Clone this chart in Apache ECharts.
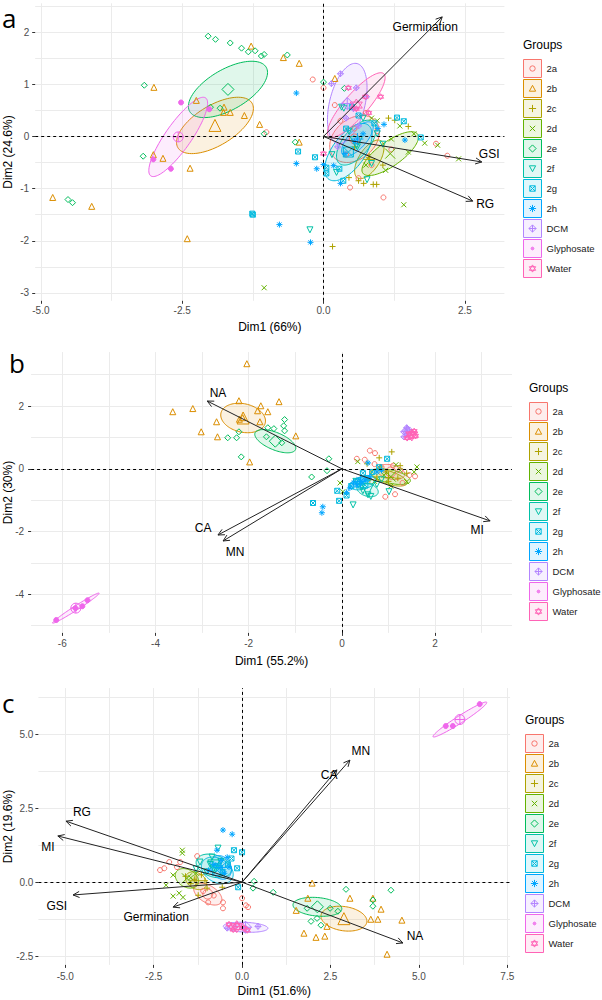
<!DOCTYPE html>
<html><head><meta charset="utf-8">
<script src="https://cdn.jsdelivr.net/npm/echarts@6/dist/echarts.min.js"></script>
<style>html,body{margin:0;padding:0;background:#fff}#c{width:602px;height:1000px}</style>
</head><body><div id="c"></div>
<script>
// ---------------- DATA ----------------
const groups = ['2a','2b','2c','2d','2e','2f','2g','2h','DCM','Glyphosate','Water'];
const colors = ['#F8766D','#DB8E00','#AEA200','#64B200','#00BD5C','#00C1A7','#00BADE','#00A6FF','#B385FF','#EF67EB','#FF63B6'];

// Panel a : individuals per group [Dim1, Dim2]
const pointsA = [
 [[-1.01,0.08],[1.06,-1.17],[1.99,-0.14],[2.19,-0.37],[-0.19,1.09],[0.0,0.93],[0.47,-0.98],[0.62,-0.80],[0.85,-0.55],[0.30,0.30],[0.75,0.45],[1.20,-0.25],[0.40,-0.35],[0.95,0.10],[0.20,0.60],[0.55,0.15]],
 [[-1.28,1.73],[-0.71,1.51],[-0.43,1.40],[-3.0,0.94],[-2.25,0.69],[-1.76,0.56],[-1.65,0.46],[-1.77,0.46],[-1.40,0.40],[-1.13,0.23],[-3.01,-0.35],[-2.84,-0.42],[-2.36,-0.61],[-4.79,-1.17],[-4.10,-1.34],[-2.41,-1.96],[-0.43,-0.11],[0.20,1.11]],
 [[0.16,-2.11],[0.71,-0.90],[0.88,-0.92],[0.94,-0.92],[1.15,0.35],[1.26,0.31],[1.50,0.19],[0.45,-0.79],[0.62,-0.85],[0.80,-0.40],[1.05,-0.55],[0.55,-0.20]],
 [[-1.05,-2.90],[1.42,-1.31],[2.39,-0.43],[2.02,-0.17],[1.79,-0.13],[0.95,0.30],[1.35,0.20],[1.60,0.05],[0.75,-0.55],[1.10,-0.65],[0.85,0.35],[1.50,-0.30],[1.20,-0.05]],
 [[-2.04,1.92],[-1.91,1.86],[-1.65,1.79],[-1.45,1.69],[-1.33,1.62],[-1.21,1.64],[-1.10,1.54],[-1.05,1.57],[-0.64,1.56],[-3.17,0.98],[-2.0,0.56],[-1.83,0.54],[-1.05,0.05],[-3.19,-0.38],[-4.52,-1.21],[-4.44,-1.27],[-0.5,-0.11],[0.0,1.04],[0.37,0.92]],
 [[-0.24,-1.79],[0.36,0.54],[0.85,-0.52],[0.23,-0.69],[0.32,0.56],[0.77,-0.83],[0.60,-0.20],[0.45,0.10],[0.95,0.05],[0.15,-0.35],[0.70,0.35],[1.05,-0.15]],
 [[-0.45,-0.29],[-1.26,-1.48],[-1.25,-1.50],[-0.15,-0.40],[1.72,-0.02],[0.50,0.56],[1.42,0.29],[1.30,0.36],[0.05,-0.60],[0.28,-0.62],[0.35,-0.85],[0.05,-0.71],[0.62,0.40],[0.40,0.15],[0.90,0.25]],
 [[-0.48,0.83],[-0.48,-0.52],[-0.78,-1.69],[-0.23,-2.03],[-0.12,-0.62],[0.0,-0.54],[0.18,-0.56],[0.30,-0.90],[0.96,0.15],[1.07,0.23],[1.44,-0.07],[0.38,-0.33],[0.55,-0.10],[0.70,0.05]],
 [[0.14,1.01],[0.58,0.93],[0.76,0.76],[0.53,0.53],[0.25,-0.20],[0.40,0.35],[0.62,0.20],[0.30,1.20]],
 [[-2.52,0.65],[-2.02,0.52],[-3.01,-0.44],[-2.70,-0.62]],
 [[0.44,0.93],[0.74,0.76],[1.01,0.76],[0.58,0.53],[0.0,-0.33],[0.80,0.45]]
];
// group ellipses: [centre Dim1, centre Dim2, sd Dim1, sd Dim2, correlation]
const ellipsesA = [
 [0.55,-0.05,0.44,0.45,0.3],[-1.92,0.21,0.68,0.54,0.6],[0.81,-0.44,0.26,0.37,0.6],[1.18,-0.33,0.50,0.42,0.75],
 [-1.69,0.90,0.70,0.54,0.6],[0.58,-0.12,0.35,0.43,0.6],[0.44,-0.30,0.42,0.55,0.6],[0.60,-0.05,0.28,0.33,0.7],
 [0.42,0.63,0.35,0.77,0.4],[-2.57,-0.01,0.52,0.76,0.85],[0.58,0.60,0.51,0.62,0.85]
];
const varNamesA = ['Germination','GSI','RG'];
const varTipsA = [[2.10,2.29],[2.80,-0.49],[2.64,-1.24]];
const varLabelsA = [[1.80,2.10],[2.93,-0.34],[2.86,-1.30]];

// Panel b
const pointsB = [
 [[0.60,0.58],[0.71,0.50],[0.32,0.32],[0.49,0.29],[0.93,-0.89],[1.14,-0.81],[1.57,-0.24],[1.45,-0.20],[0.85,0.05],[1.10,0.10],[1.25,-0.05],[0.70,0.15],[1.30,-0.45]],
 [[-2.04,3.35],[-2.21,2.17],[-1.35,2.14],[-3.63,1.82],[-3.20,1.92],[-1.74,2.01],[-1.81,1.85],[-1.59,1.82],[-2.69,1.50],[-2.13,1.63],[-1.76,1.50],[-3.02,1.18],[-2.67,1.02],[-0.99,1.05],[-1.98,0.22],[-2.20,1.58]],
 [[1.07,0.54],[0.80,0.35],[0.54,0.16],[0.82,0.06],[1.39,-0.14],[0.75,-0.26],[1.00,-0.40],[1.20,-0.30],[0.95,-0.10],[0.60,-0.35],[1.25,0.10]],
 [[-0.04,-0.45],[1.61,0.06],[1.55,-0.10],[0.34,0.23],[1.16,0.13],[0.02,-0.73],[1.39,-0.41],[0.90,-0.20],[1.25,-0.05],[0.70,-0.40],[1.05,-0.55]],
 [[-2.45,0.99],[-2.26,0.99],[-2.21,1.18],[-2.16,0.38],[-1.62,1.02],[-1.59,1.31],[-1.46,1.28],[-1.23,1.57],[-1.25,1.37],[-1.23,1.21],[-1.29,0.83],[-0.28,0.32],[-0.65,-0.26],[-0.32,-0.06]],
 [[0.24,-1.15],[1.01,-0.73],[0.56,-0.83],[0.43,-0.57],[0.62,-0.88],[0.30,-0.40],[0.75,-0.50],[0.45,-0.70],[0.85,-0.35]],
 [[-0.62,-1.09],[-0.10,-0.70],[-0.06,-1.02],[0.97,0.32],[0.45,-0.14],[0.20,-0.55],[0.35,-0.40],[0.65,-0.10],[0.80,0.05],[0.10,-0.85],[0.55,-0.30]],
 [[-0.41,-1.21],[-0.43,-1.40],[0.17,-0.61],[0.32,-0.51],[0.43,-0.41],[0.60,-0.26],[0.75,-0.10],[0.56,0.19],[0.25,-0.45],[0.50,-0.35],[0.85,-0.05],[0.10,-0.75]],
 [[1.39,1.31],[1.36,1.20],[1.42,1.12],[1.33,1.02],[1.45,1.24]],
 [[-6.13,-4.82],[-5.72,-4.44],[-5.57,-4.38],[-5.46,-4.19]],
 [[1.45,1.10],[1.52,1.14],[1.58,1.05],[1.40,0.98],[1.55,1.20],[1.48,1.02]]
];
const ellipsesB = [
 [1.05,-0.10,0.30,0.24,-0.3],[-2.12,1.62,0.48,0.47,-0.2],[1.00,-0.28,0.40,0.27,-0.6],[1.05,-0.25,0.42,0.25,-0.5],
 [-1.43,0.88,0.44,0.37,-0.6],[0.55,-0.67,0.23,0.22,-0.3],[0.45,-0.45,0.28,0.22,0.4],[0.40,-0.40,0.22,0.18,0.6],
 [1.39,1.18,0.06,0.12,0.3],[-5.71,-4.44,0.50,0.48,0.985],[1.50,1.08,0.08,0.08,0.3]
];
const varNamesB = ['NA','CA','MN','MI'];
const varTipsB = [[-2.89,2.16],[-2.66,-2.11],[-2.55,-2.30],[3.18,-1.66]];
const varLabelsB = [[-2.66,2.42],[-2.98,-1.89],[-2.29,-2.65],[2.90,-1.95]];

// Panel c
const pointsC = [
 [[-2.32,0.41],[-2.20,0.47],[-2.06,0.68],[-1.84,0.51],[-0.96,-0.68],[-0.54,-0.68],[-0.54,-0.88],[0.11,-0.78],[0.17,-0.84],[0.0,-0.54],[-1.27,0.88],[-1.75,0.68],[-1.10,-0.30],[-0.80,-0.45]],
 [[1.98,-0.03],[1.86,-0.54],[3.05,-0.54],[3.70,-0.54],[3.93,-0.91],[3.64,-1.25],[3.84,-1.25],[4.52,-1.28],[1.53,-0.95],[2.40,-1.49],[1.75,-1.72],[2.09,-1.86],[2.34,-1.82],[4.10,-2.43]],
 [[-0.99,-0.20],[-1.24,-0.44],[-0.56,-0.17],[-1.35,0.10],[-1.15,0.25],[-1.45,-0.05],[-1.05,0.05],[-1.60,0.20]],
 [[-1.69,1.08],[-1.95,0.24],[-2.15,-0.10],[-1.95,-0.47],[-1.78,-0.37],[-1.67,-0.51],[-1.69,0.98],[-1.45,0.15],[-1.30,0.30]],
 [[2.94,-0.24],[4.21,-0.27],[3.70,-0.81],[1.84,-0.88],[2.49,-0.88],[2.71,-0.98],[1.95,-1.32],[2.12,-1.22],[2.23,-1.45],[0.34,0.03],[0.31,-0.20],[0.88,-0.34],[3.70,-0.60]],
 [[-0.68,1.15],[-1.19,0.68],[-0.90,0.60],[-0.75,0.45],[-1.00,0.35],[-0.60,0.70],[-1.30,0.45],[-0.85,0.85]],
 [[-0.23,1.08],[0.0,1.01],[-0.14,0.47],[-0.11,-0.17],[-0.40,0.60],[-0.55,0.35],[-0.30,0.80],[-0.70,0.55]],
 [[-0.54,1.76],[-0.28,1.62],[-0.71,1.08],[-0.42,0.84],[-0.37,0.51],[-0.59,0.74],[-0.80,0.60],[-0.95,0.40],[-0.50,0.30]],
 [[-0.42,-1.55],[0.45,-1.49],[0.10,-1.55],[-0.20,-1.50]],
 [[5.76,5.27],[5.96,5.27],[6.72,6.01]],
 [[-0.37,-1.42],[-0.14,-1.45],[0.05,-1.55],[-0.25,-1.60],[0.15,-1.62]]
];
const ellipsesC = [
 [-0.97,-0.40,0.40,0.37,-0.5],[2.88,-1.23,0.65,0.42,-0.2],[-1.30,0.05,0.30,0.30,-0.3],[-1.56,0.13,0.33,0.33,-0.3],
 [2.13,-0.83,0.69,0.32,-0.2],[-0.80,0.55,0.50,0.40,-0.3],[-0.70,0.40,0.45,0.45,-0.3],[-0.60,0.50,0.30,0.40,-0.2],
 [0.10,-1.52,0.63,0.17,-0.2],[6.16,5.49,0.76,0.59,0.97],[-0.15,-1.50,0.25,0.10,0.0]
];
const varNamesC = ['RG','MI','GSI','Germination','MN','CA','NA'];
const varTipsC = [[-4.98,2.06],[-5.21,1.56],[-4.78,-0.43],[-1.95,-0.84],[3.05,4.12],[2.68,3.79],[4.55,-2.05]];
const varLabelsC = [[-4.53,2.36],[-5.49,1.19],[-5.24,-0.80],[-2.43,-1.18],[3.36,4.43],[2.46,3.62],[4.89,-1.81]];

// axis ticks / grid lines
const xTicksA = [-5,-2.5,0,2.5], yTicksA = [-3,-2,-1,0,1,2];
const xGridA = [-5,-3.75,-2.5,-1.25,0,1.25,2.5], yGridA = [-3,-2.5,-2,-1.5,-1,-0.5,0,0.5,1,1.5,2,2.5];
const xTicksB = [-6,-4,-2,0,2], yTicksB = [-4,-2,0,2];
const xGridB = [-6,-5,-4,-3,-2,-1,0,1,2,3], yGridB = [-5,-4,-3,-2,-1,0,1,2,3];
const xTicksC = [-5,-2.5,0,2.5,5,7.5], yTicksC = [-2.5,0,2.5,5];
const xGridC = [-5,-3.75,-2.5,-1.25,0,1.25,2.5,3.75,5,6.25,7.5], yGridC = [-2.5,-1.25,0,1.25,2.5,3.75,5,6.25];

// ---------------- STYLE / LAYOUT ----------------
const FF = '"Liberation Sans", Arial, sans-serif';
const T = 'rgba(0,0,0,0)';
function rgba(hex,a){const n=parseInt(hex.slice(1),16);return 'rgba('+(n>>16)+','+((n>>8)&255)+','+(n&255)+','+a+')';}
const symbols = [
 'circle','triangle',
 'path://M5,0V10M0,5H10',
 'path://M0,0L10,10M10,0L0,10',
 'diamond',
 'path://M0,0L10,0L5,9Z',
 'path://M0,0H10V10H0ZM0,0L10,10M10,0L0,10',
 'path://M5,0V10M0,5H10M1.5,1.5L8.5,8.5M8.5,1.5L1.5,8.5',
 'path://M5,0L10,5L5,10L0,5ZM5,0V10M0,5H10',
 'circle',
 'path://M5,0L9.33,7.5L0.67,7.5ZM5,10L0.67,2.5L9.33,2.5Z'
];
const symSize = [5,6,6,5,6,6,5,6,6,5,6];
const meanSymbols = symbols.slice(); meanSymbols[9] = 'path://M0,5A5,5 0 1,1 10,5A5,5 0 1,1 0,5ZM5,0V10M0,5H10';
const legendInner = [
 'M7,10A3,3 0 1,1 13,10A3,3 0 1,1 7,10Z',
 'M10,6.5L13.5,13L6.5,13Z',
 'M10,6V14M6,10H14',
 'M7,7L13,13M13,7L7,13',
 'M10,6L14,10L10,14L6,10Z',
 'M6.5,7L13.5,7L10,13.5Z',
 'M7,7H13V13H7ZM7,7L13,13M13,7L7,13',
 'M10,6V14M6,10H14M7.2,7.2L12.8,12.8M12.8,7.2L7.2,12.8',
 'M10,6L14,10L10,14L6,10ZM10,6V14M6,10H14',
 'M8.5,10A1.5,1.5 0 1,1 11.5,10A1.5,1.5 0 1,1 8.5,10ZM9.3,10A0.7,0.7 0 1,1 10.7,10A0.7,0.7 0 1,1 9.3,10Z',
 'M10,6L13.5,12H6.5ZM10,14L6.5,8H13.5Z'
];

const panels = [
 {pts:pointsA, ell:ellipsesA, vn:varNamesA, vt:varTipsA, vl:varLabelsA, xr:[-5.1,3.2], yr:[-3.15,2.55],
  xg:xGridA, yg:yGridA, xt:xTicksA, yt:yTicksA, xDec:1, yDec:0, xName:'Dim1 (66%)', yName:'Dim2 (24.6%)',
  rect:{left:35.2, top:3.3, width:469.2, height:297.5}, mx:5, my:6, ngx:20, ngy:21, legLeft:523, legTop:59, grpTop:39},
 {pts:pointsB, ell:ellipsesB, vn:varNamesB, vt:varTipsB, vl:varLabelsB, xr:[-6.67,3.65], yr:[-5.23,3.72],
  xg:xGridB, yg:yGridB, xt:xTicksB, yt:yTicksB, xDec:0, yDec:0, xName:'Dim1 (55.2%)', yName:'Dim2 (30%)',
  rect:{left:31.1, top:352.1, width:480.9, height:280.8}, mx:6, my:7, ngx:22, ngy:17, legLeft:529, legTop:402, grpTop:382},
 {pts:pointsC, ell:ellipsesC, vn:varNamesC, vt:varTipsC, vl:varLabelsC, xr:[-5.76,7.58], yr:[-2.79,6.55],
  xg:xGridC, yg:yGridC, xt:xTicksC, yt:yTicksC, xDec:1, yDec:1, xName:'Dim1 (51.6%)', yName:'Dim2 (19.6%)',
  rect:{left:38.4, top:688.1, width:471.7, height:276.8}, mx:7, my:5, ngx:20, ngy:24, legLeft:525, legTop:734, grpTop:714}
];

const grid=[], xAxis=[], yAxis=[], series=[], legend=[];
const title = [
 {text:'a', left:2, top:5, padding:0, textStyle:{fontSize:26, lineHeight:26, fontWeight:'normal', color:'#000', fontFamily:'"Open Sans", sans-serif'}},
 {text:'b', left:9, top:350, padding:0, textStyle:{fontSize:26, fontWeight:'normal', color:'#000', fontFamily:'"Open Sans", sans-serif'}},
 {text:'c', left:2, top:690, padding:0, textStyle:{fontSize:26, fontWeight:'normal', color:'#000', fontFamily:'"Open Sans", sans-serif'}}
];

function ellipseRender(colorsArr){
 return function(params, api){
  const cx=api.value(0), cy=api.value(1), sx=api.value(2), sy=api.value(3), r=api.value(4), g=api.value(5);
  const q=Math.sqrt(Math.max(0,1-r*r)); const pts=[];
  for(let k=0;k<96;k++){const t=2*Math.PI*k/96; pts.push(api.coord([cx+sx*Math.cos(t), cy+sy*(r*Math.cos(t)+q*Math.sin(t))]));}
  return {type:'polygon', shape:{points:pts}, style:{fill:rgba(colorsArr[g],0.12), stroke:colorsArr[g], lineWidth:1}};
 };
}
function arrowRender(names){
 return function(params, api){
  const o=api.coord([0,0]), p=api.coord([api.value(0),api.value(1)]), l=api.coord([api.value(2),api.value(3)]);
  const ang=Math.atan2(p[1]-o[1],p[0]-o[0]), h=7, a=Math.PI/7;
  const p1=[p[0]-h*Math.cos(ang-a), p[1]-h*Math.sin(ang-a)], p2=[p[0]-h*Math.cos(ang+a), p[1]-h*Math.sin(ang+a)];
  return {type:'group', children:[
   {type:'line', shape:{x1:o[0],y1:o[1],x2:p[0],y2:p[1]}, style:{stroke:'#222', lineWidth:1}},
   {type:'polyline', shape:{points:[p1,p,p2]}, style:{stroke:'#222', lineWidth:1, fill:null}},
   {type:'text', x:l[0], y:l[1], style:{text:names[params.dataIndex], fill:'#000', fontSize:12, fontFamily:FF, align:'center', verticalAlign:'middle', textAlign:'center', textVerticalAlign:'middle'}}
  ]};
 };
}

panels.forEach((P,i)=>{
 grid.push(Object.assign({containLabel:false, outerBoundsMode:'none'}, P.rect));
 const base = {type:'value', gridIndex:i, axisLine:{show:false, onZero:false}};
 xAxis.push(Object.assign({}, base, {position:'bottom', min:P.xr[0], max:P.xr[1],
   axisTick:{show:false, customValues:P.xg}, axisLabel:{show:false},
   splitLine:{show:true, lineStyle:{color:'#EBEBEB', width:1}}}));
 xAxis.push(Object.assign({}, base, {position:'bottom', min:P.xr[0], max:P.xr[1],
   axisTick:{show:true, customValues:P.xt, length:3, lineStyle:{color:'#333'}},
   axisLabel:{customValues:P.xt, formatter:v=>(+v).toFixed(P.xDec), color:'#4D4D4D', fontSize:10, fontFamily:FF, margin:P.mx},
   splitLine:{show:false}, name:P.xName, nameLocation:'middle', nameGap:P.ngx,
   nameTextStyle:{fontSize:12, color:'#000', fontFamily:FF}}));
 yAxis.push(Object.assign({}, base, {position:'left', min:P.yr[0], max:P.yr[1],
   axisTick:{show:false, customValues:P.yg}, axisLabel:{show:false},
   splitLine:{show:true, lineStyle:{color:'#EBEBEB', width:1}},
   name:P.yName, nameLocation:'middle', nameGap:P.ngy, nameMoveOverlap:false,
   nameTextStyle:{fontSize:12, color:'#000', fontFamily:FF}}));
 yAxis.push(Object.assign({}, base, {position:'left', min:P.yr[0], max:P.yr[1],
   axisTick:{show:true, customValues:P.yt, length:3, lineStyle:{color:'#333'}},
   axisLabel:{customValues:P.yt, formatter:v=>(+v).toFixed(P.yDec), color:'#4D4D4D', fontSize:10, fontFamily:FF, margin:P.my},
   splitLine:{show:false}}));
 const xi=2*i, yi=2*i;
 series.push({type:'custom', name:'ell'+i, xAxisIndex:xi, yAxisIndex:yi, silent:true, z:2, animation:false,
   encode:{x:0,y:1}, data:P.ell.map((e,g)=>[e[0],e[1],e[2],e[3],e[4],g]), renderItem:ellipseRender(colors)});
 groups.forEach((gname,g)=>{
  const filled = (g===9);
  const s = {type:'scatter', name:gname, xAxisIndex:xi, yAxisIndex:yi, silent:true, z:3, animation:false,
   symbol:symbols[g], symbolSize:symSize[g],
   itemStyle:{color: filled?colors[g]:T, borderColor:colors[g], borderWidth:1, opacity:1},
   data: P.pts[g].map(p=>[p[0],p[1]]).concat([{value:[P.ell[g][0],P.ell[g][1]], symbol:meanSymbols[g], symbolSize:symSize[g]*2,
     itemStyle:{color:T, borderColor:colors[g], borderWidth:1}}])};
  if(g===0){
   s.markLine = {silent:true, symbol:['none','none'], animation:false, label:{show:false},
     lineStyle:{color:'#000', type:[3,3], width:1}, emphasis:{disabled:true}, data:[{xAxis:0},{yAxis:0}]};
  }
  series.push(s);
 });
 series.push({type:'custom', name:'var'+i, xAxisIndex:xi, yAxisIndex:yi, silent:true, z:5, animation:false,
   encode:{x:0,y:1}, data:P.vn.map((n,k)=>[P.vt[k][0],P.vt[k][1],P.vl[k][0],P.vl[k][1]]), renderItem:arrowRender(P.vn)});
 legend.push({orient:'vertical', left:P.legLeft, top:P.legTop, itemWidth:18, itemHeight:18, itemGap:1, padding:0,
   selectedMode:false, textStyle:{fontSize:9.5, color:'#1A1A1A', fontFamily:FF},
   data:groups.map((gname,k)=>({name:gname, icon:'path://M0,0H20V20H0Z'+legendInner[k],
     itemStyle:{color:rgba(colors[k],0.12), borderColor:colors[k], borderWidth:1}}))});
 title.push({text:'Groups', left:P.legLeft, top:P.grpTop, padding:0, textStyle:{fontSize:12, fontWeight:'normal', color:'#000', fontFamily:FF}});
});

const chart = echarts.init(document.getElementById('c'), null, {renderer:'svg'});
chart.setOption({animation:false, backgroundColor:'#fff', textStyle:{fontFamily:FF}, title, grid, xAxis, yAxis, legend, series});
</script>
</body></html>
